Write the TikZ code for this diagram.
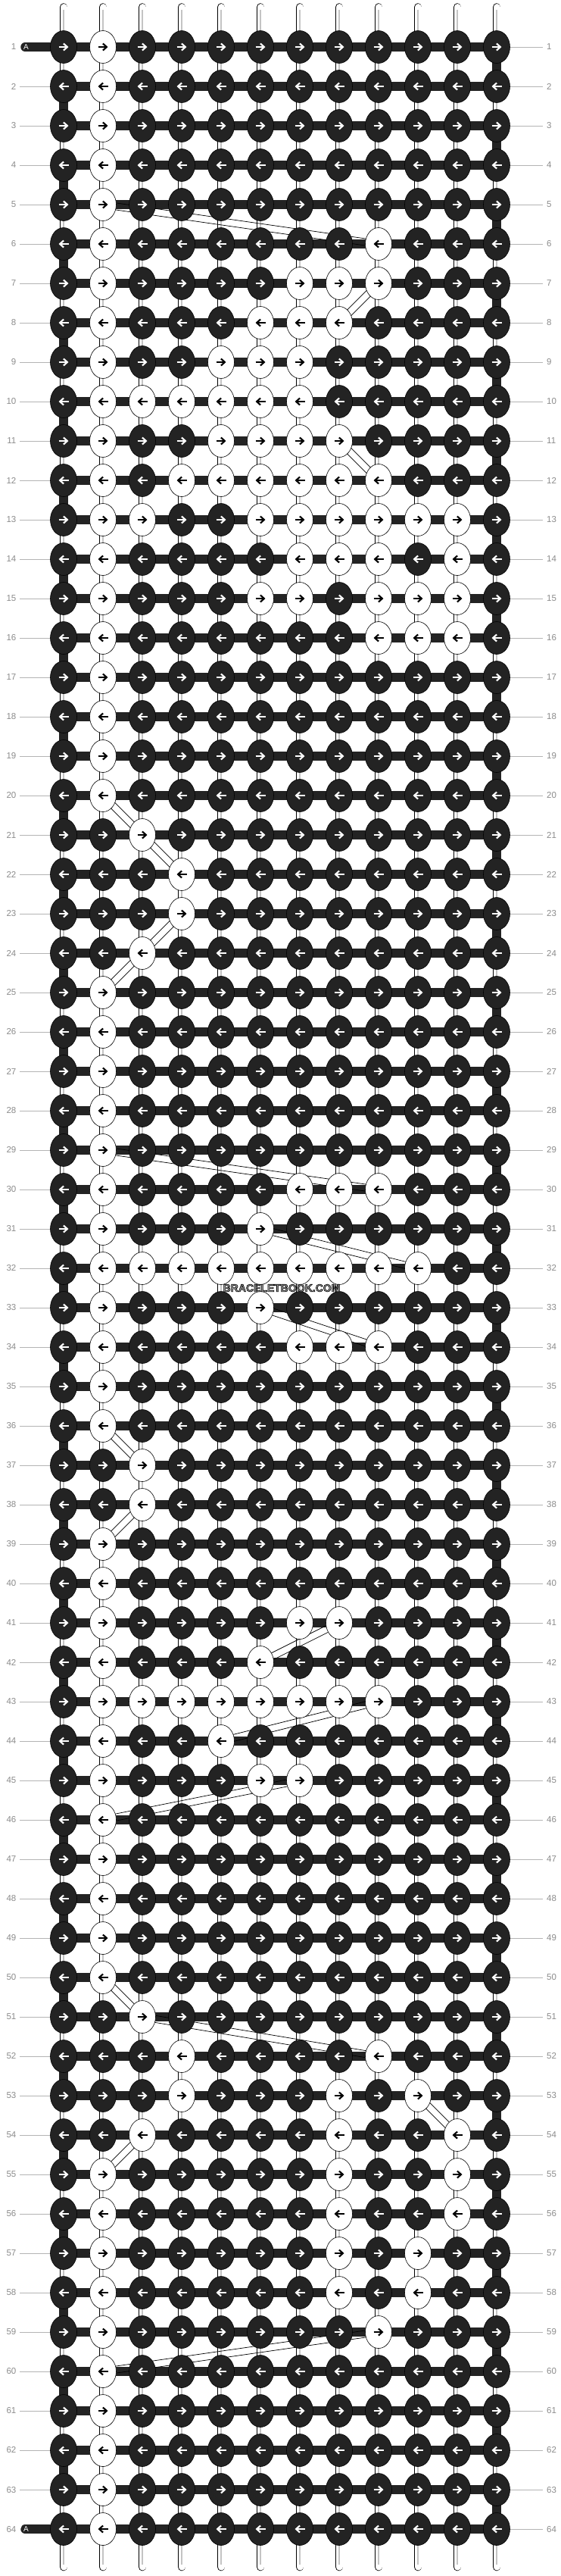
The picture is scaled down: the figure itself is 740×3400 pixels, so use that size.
\documentclass[tikz,border=0pt]{standalone}
\usepackage{fontspec}
\setmainfont{Liberation Sans}
\usetikzlibrary{shapes.geometric,arrows.meta,calc}
\definecolor{kb}{HTML}{232323}
\definecolor{lblgray}{HTML}{8C8C8C}
\definecolor{lngray}{HTML}{B4B4B4}
\definecolor{tubegray}{HTML}{C4C4C4}
\definecolor{wmgray}{HTML}{9A9A9A}
\tikzset{
 knot/.style={ellipse, minimum width=35pt, minimum height=43pt, inner sep=0pt, draw=black, line width=0.6pt},
 bar/.style={draw=kb, line width=11.5pt},
 tubeout/.style={draw=black, line width=10.6pt, line cap=round},
 tubein/.style={draw=white, line width=9pt, line cap=round},
 tubemid/.style={draw=tubegray, line width=1.6pt},
 rowline/.style={draw=lngray, line width=0.9pt},
 rowlbl/.style={text=lblgray, font=\fontsize{11.5}{12}\selectfont, inner sep=0pt},
 knotarrow/.style={line width=2.1pt, -{Straight Barb[length=5pt,width=9pt]}},
 carry/.style={draw=black, line width=0.7pt},
 tablbl/.style={text=white, font=\fontsize{10}{10}\selectfont, inner sep=0pt},
 wmark/.style={text=wmgray, font=\bfseries\fontsize{14}{14}\selectfont, inner sep=0pt},
}
\def\masks{{2,2,2,2,2,258,450,226,114,126,242,506,2022,1474,1890,1794,2,2,2,2,4,8,8,4,2,2,2,2,2,450,34,1022,34,450,2,2,4,4,2,2,194,34,510,18,98,2,2,2,2,2,4,264,648,1156,1154,1154,642,642,258,2,2,2,2,2}}
\begin{document}
\begin{tikzpicture}[x=1pt,y=-1pt]
\fill[white] (0,0) rectangle (740,3400);
\useasboundingbox (0,0) rectangle (740,3400);
% grid coordinates
\foreach \r in {1,...,64}{
  \foreach \c in {1,...,12}{
    \coordinate (p-\r-\c) at ({84+52*(\c-1)},{62+52*(\r-1)});
  }
  \coordinate (L-\r) at (26,{62+52*(\r-1)});
  \coordinate (R-\r) at (717,{62+52*(\r-1)});
}
% row guide lines and numbers
\foreach \r in {2,...,63}{ \draw[rowline] (L-\r) -- (p-\r-1); }
\foreach \r in {1,...,64}{
  \draw[rowline] (p-\r-12) -- (R-\r);
  \node[rowlbl, anchor=west] (rl-\r) at ($(R-\r)+(5,0)$) {\r};
  \node[rowlbl, anchor=east] (ll-\r) at ($(L-\r)+(-4.5,0)$) {\r};
}
% vertical strings
\foreach \c in {1,...,12}{
  \coordinate (t-\c) at ({84+52*(\c-1)},9.5);
  \coordinate (b-\c) at ({84+52*(\c-1)},3388);
  \draw[tubeout] (t-\c) -- (b-\c);
  \draw[tubein] (t-\c) -- (b-\c);
  \draw[tubemid] ($(t-\c)+(0,3)$) -- ($(b-\c)+(0,-3)$);
}
% turns of thread A
\foreach \r in {1,3,...,63}{ \pgfmathtruncatemacro\n{\r+1} \draw[bar] (p-\r-12) -- (p-\n-12); }
\foreach \r in {2,4,...,62}{ \pgfmathtruncatemacro\n{\r+1} \draw[bar] (p-\r-1) -- (p-\n-1); }
% horizontal thread A
\foreach \r in {1,...,64}{ \draw[bar] (p-\r-1) -- (p-\r-12); }
\coordinate (A1) at (33,62);
\coordinate (A64) at (33,3338);
\draw[bar, line cap=round] (A1) -- (p-1-1);
\draw[bar, line cap=round] (A64) -- (p-64-1);
\node[tablbl] (tabA1) at (34.5,62) {A};
\node[tablbl] (tabA64) at (34.5,3338) {A};
% carried strings
\foreach \ra/\ca/\rb/\cb in {5/2/6/9, 7/9/8/8, 11/8/12/9, 20/2/21/3, 21/3/22/4, 23/4/24/3, 24/3/25/2, 29/2/30/9, 31/6/32/10, 33/6/34/9, 36/2/37/3, 38/3/39/2, 41/8/42/6, 43/9/44/5, 45/7/46/2, 50/2/51/3, 51/3/52/9, 53/10/54/11, 54/3/55/2, 59/9/60/2}{
  \draw[carry] ($(p-\ra-\ca)!4.5pt!90:(p-\rb-\cb)$) -- ($(p-\rb-\cb)!4.5pt!-90:(p-\ra-\ca)$);
  \draw[carry] ($(p-\ra-\ca)!4.5pt!-90:(p-\rb-\cb)$) -- ($(p-\rb-\cb)!4.5pt!90:(p-\ra-\ca)$);
}
% knots
\foreach \r in {1,...,64}{
  \pgfmathtruncatemacro\m{\masks[\r-1]}
  \foreach \c in {1,...,12}{
    \pgfmathtruncatemacro\bit{mod(floor(\m/pow(2,\c-1)),2)}
    \ifnum\bit=1 \def\kf{white}\def\ac{black}\else\def\kf{kb}\def\ac{white}\fi
    \ifodd\r \def\sx{-6.5}\def\ex{6.5}\else\def\sx{6.5}\def\ex{-6.5}\fi
    \node[knot, fill=\kf] (k-\r-\c) at (p-\r-\c) {};
    \draw[knotarrow, draw=\ac] ($(k-\r-\c.center)+(\sx,0)$) -- ($(k-\r-\c.center)+(\ex,0)$);
  }
}
% watermark
\node[wmark] (wm) at (372,1700) {\special{pdf:literal direct 2 Tr 0.6 w 0 0 0 RG}BRACELETBOOK.COM\special{pdf:literal direct 0 Tr}};
\end{tikzpicture}
\end{document}
